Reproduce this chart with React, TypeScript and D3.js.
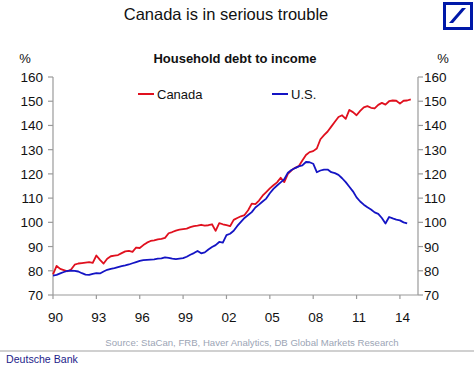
// App.tsx
import React from 'react'
import * as d3 from 'd3'

// quarterly, starting 1990 Q1
const startYear = 1990
const canada = [
  78.5, 82, 80.8, 80.3, 79.8, 80.5, 82.5, 83, 83.2, 83.4, 83.6, 83.3,
  86.3, 84.5, 83, 85, 86, 86.3, 86.5, 87.3, 88, 88.2, 87.8, 89.6,
  89.4, 90.6, 91.6, 92.3, 92.6, 93, 93.2, 93.6, 95.5, 96, 96.6, 97,
  97.2, 97.4, 98, 98.4, 98.6, 99, 98.6, 98.8, 99.2, 96.5, 99.7, 99.2,
  98.8, 98.4, 101, 101.8, 102.5, 103, 105, 107.7, 107.5, 109, 111, 112.5,
  114, 115.3, 116.5, 118.4, 116.6, 120, 121.5, 122.5, 123.2, 125.5, 127.8, 129,
  129.4, 130.5, 134.3, 136, 137.5, 139.5, 141.5, 143.5, 144.2, 142.7, 146.4, 145.5,
  144.2, 146, 147.5, 148, 147.3, 147, 148.5, 149.3, 148.6, 150, 150.3, 150.2,
  149, 150.2, 150.3, 150.8,
]
const us = [
  78, 78.3, 78.9, 79.5, 80, 80.1, 80, 79.7, 79, 78.4, 78.3, 78.7,
  79, 78.9, 79.7, 80.4, 80.8, 81.1, 81.5, 81.9, 82.2, 82.6, 83.1, 83.6,
  84.1, 84.4, 84.5, 84.6, 84.7, 85, 85.1, 85.5, 85.3, 85, 84.8, 85,
  85.2, 85.8, 86.6, 87.3, 88.2, 87.2, 87.6, 88.8, 89.8, 90.6, 91.9, 91.6,
  94.7, 95.3, 96.5, 98.5, 100.2, 101.8, 103, 104.2, 106.1, 107.3, 108.6, 109.8,
  112, 113.8, 115.2, 116.5, 117.8, 120.5, 121.6, 122.4, 123.1, 123.5, 124.9, 124.8,
  124.2, 120.7, 121.4, 121.8, 121.8, 120.7, 120.3, 119.6, 118.2, 116.6, 114.7, 112.8,
  110.3, 108.6, 107.3, 106.2, 105.3, 104.1, 103.5, 101.8, 99.5, 102.2, 101.6, 101.1,
  100.8, 100, 99.6,
]
const yTicks = [70, 80, 90, 100, 110, 120, 130, 140, 150, 160]
const xTicks = [1990, 1993, 1996, 1999, 2002, 2005, 2008, 2011, 2014]
const xLabels = ['90', '93', '96', '99', '02', '05', '08', '11', '14']
const series = [
  { name: 'Canada', values: canada, color: '#e0101e' },
  { name: 'U.S.', values: us, color: '#1414c4' },
]

const W = 474
const H = 365
const font = "'Liberation Sans', Arial, sans-serif"
const axisGrey = '#9a9a9a'

export default function App() {
  const x = d3.scaleLinear().domain([1990, 2015.25]).range([53, 418])
  const y = d3.scaleLinear().domain([70, 160]).range([295, 77])

  const line = d3.line<number>()
    .x((d, i) => x(startYear + i / 4))
    .y(d => y(d))

  const legendX = [138, 272]

  return (
    <svg width={W} height={H} style={{ position: 'absolute', left: 0, top: 0, background: '#fff' }}
      fontFamily={font}>
      <text x={226} y={20} textAnchor="middle" fontSize={16.5} fill="#111">Canada is in serious trouble</text>

      {/* logo */}
      <rect x={444.5} y={3.5} width={27} height={25} fill="none" stroke="#0018a8" strokeWidth={3} />
      <path d="M449,23 L453,23 L466,8 L462,8 Z" fill="#0018a8" />

      <text x={25} y={63} textAnchor="middle" fontSize={13} fill="#111">%</text>
      <text x={443} y={63} textAnchor="middle" fontSize={13} fill="#111">%</text>
      <text x={235} y={63} textAnchor="middle" fontSize={13} fontWeight="bold" fill="#111">Household debt to income</text>

      {/* axes */}
      <g stroke={axisGrey} strokeWidth={1.2} fill="none">
        <line x1={53} x2={53} y1={y(160)} y2={y(70)} />
        <line x1={418} x2={418} y1={y(160)} y2={y(70)} />
        <line x1={53} x2={418} y1={y(70)} y2={y(70)} />
        {yTicks.map(t => (
          <g key={t}>
            <line x1={48} x2={53} y1={y(t)} y2={y(t)} />
            <line x1={418} x2={423} y1={y(t)} y2={y(t)} />
          </g>
        ))}
        {xTicks.map(t => (
          <line key={t} x1={x(t)} x2={x(t)} y1={y(70)} y2={y(70) + 4} />
        ))}
      </g>
      {yTicks.map(t => (
        <g key={t} fontSize={13.5} fill="#111">
          <text x={43} y={y(t) + 5} textAnchor="end">{t}</text>
          <text x={424} y={y(t) + 5}>{t}</text>
        </g>
      ))}
      {xTicks.map((t, i) => (
        <text key={t} x={x(t) + 2.5} y={322} textAnchor="middle" fontSize={13.5} fill="#111">{xLabels[i]}</text>
      ))}

      {/* series */}
      {series.map(s => (
        <path key={s.name} d={line(s.values) || ''} fill="none" stroke={s.color} strokeWidth={1.8} strokeLinejoin="round" />
      ))}

      {/* legend */}
      {series.map((s, i) => (
        <g key={s.name}>
          <line x1={legendX[i]} x2={legendX[i] + 16} y1={94} y2={94} stroke={s.color} strokeWidth={2} />
          <text x={legendX[i] + 19} y={99} fontSize={13} fill="#111">{s.name}</text>
        </g>
      ))}

      <text x={252} y={346} textAnchor="middle" fontSize={9.6} fill="#9ca5b5">Source: StaCan, FRB, Haver Analytics, DB Global Markets Research</text>
      <line x1={0} x2={W} y1={351} y2={351} stroke="#d0d0d0" strokeWidth={2} />
      <text x={6} y={363} fontSize={10.6} fill="#1c1c8a">Deutsche Bank</text>
    </svg>
  )
}
